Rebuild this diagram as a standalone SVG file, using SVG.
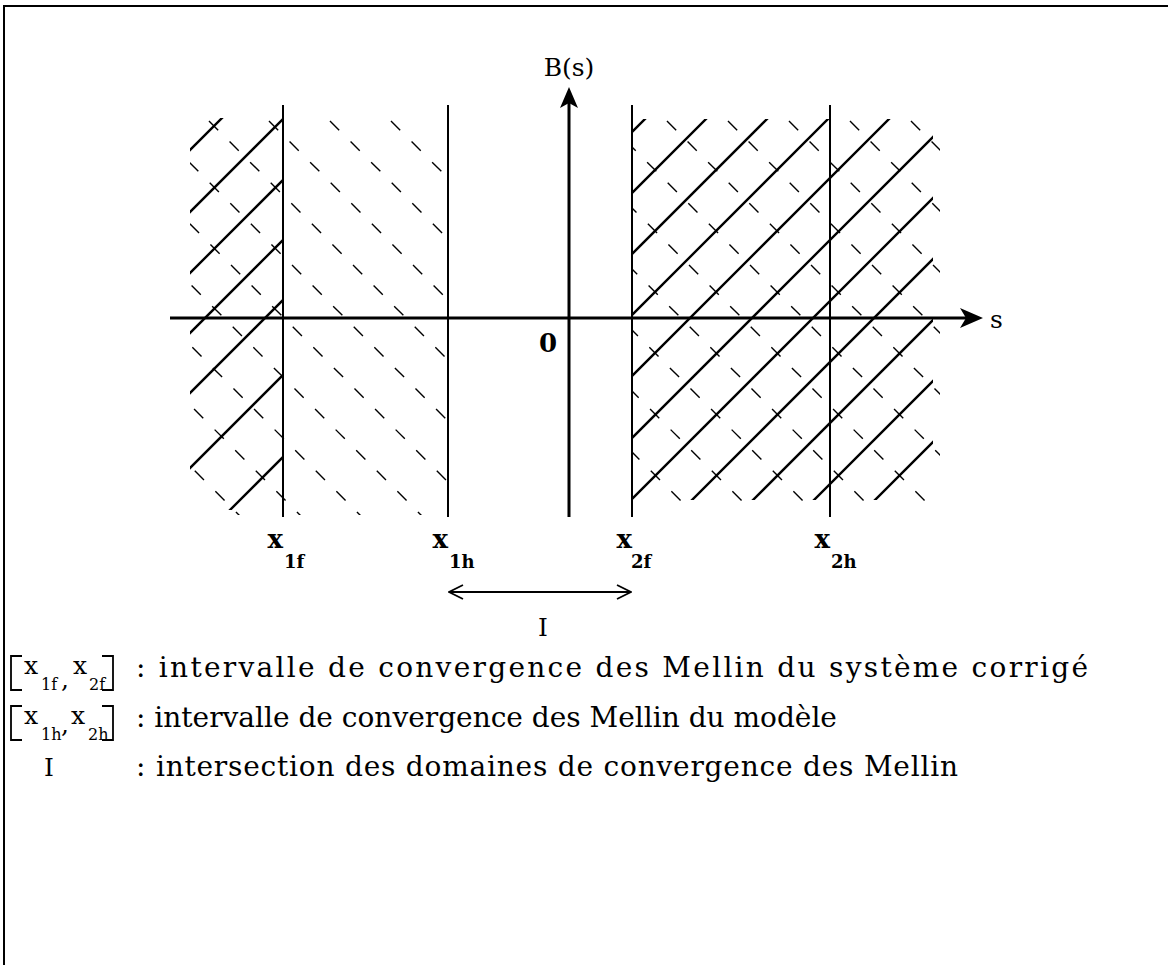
<svg xmlns="http://www.w3.org/2000/svg" width="1168" height="965" viewBox="0 0 1168 965">
<style>
.frame{stroke:#000;stroke-width:2;fill:none}
.axis{stroke:#000;stroke-width:3;fill:none}
.vline{stroke:#000;stroke-width:2;fill:none}
.hs{stroke:#000;stroke-width:2.4;fill:none}
.hd{stroke:#000;stroke-width:1.4;fill:none;stroke-dasharray:13 16.1}
.br{stroke:#000;stroke-width:1.8;fill:none}
text{font-family:"DejaVu Serif","Liberation Serif",serif;fill:#000}
.lbl{font-size:25px}
.xb{font-size:26px;font-weight:bold}
.sb{font-size:18px;font-weight:bold}
.lx{font-size:25px}
.ls{font-size:16px}
.leg{font-size:28px}
</style>
<defs>
<clipPath id="cLS"><rect x="190" y="118" width="93" height="392"/></clipPath>
<clipPath id="cLD"><rect x="190" y="118" width="258" height="397"/></clipPath>
<clipPath id="cRS"><rect x="632" y="119" width="301" height="381"/></clipPath>
<clipPath id="cRD"><rect x="632" y="118" width="308" height="387"/></clipPath>
<marker id="openArr" viewBox="0 0 16 16" refX="15" refY="8" markerWidth="16" markerHeight="16" markerUnits="userSpaceOnUse" orient="auto-start-reverse"><path d="M1 1 L15 8 L1 15" fill="none" stroke="#000" stroke-width="1.8"/></marker>
</defs>
<rect width="1168" height="965" fill="#fff"/>
<path class="frame" d="M4 965 V6 H1168"/>

<g id="hatch-left">
<g clip-path="url(#cLS)">
<path class="hs" d="M150 190 L330 10 M150 252 L330 72 M150 313 L330 133 M150 373 L330 193 M150 433 L330 253 M150 508 L330 328 M150 590 L330 410"/>
</g>
<g clip-path="url(#cLD)">
<path class="hd" d="M-175.6 100.4 L264 540 M-114.6 100.4 L325 540 M-54.6 100.4 L385 540 M6.4 100.4 L446 540 M66.4 100.4 L506 540 M127.4 100.4 L567 540 M188.4 100.4 L628 540 M248.4 100.4 L688 540 M309.4 100.4 L749 540 M370.4 100.4 L810 540"/>
</g>
</g>

<g id="hatch-right">
<g clip-path="url(#cRS)">
<path class="hs" d="M600 164 L960 -196 M600 225 L960 -135 M600 286 L960 -74 M600 347 L960 -13 M600 408 L960 48 M600 470 L960 110 M600 531 L960 171 M600 592 L960 232 M600 653 L960 293 M600 714 L960 354 M600 775 L960 415"/>
</g>
<g clip-path="url(#cRD)">
<path class="hd" d="M219.4 100.4 L659 540 M280.4 100.4 L720 540 M341.4 100.4 L781 540 M402.4 100.4 L842 540 M463.4 100.4 L903 540 M524.4 100.4 L964 540 M585.4 100.4 L1025 540 M646.4 100.4 L1086 540 M707.4 100.4 L1147 540 M768.4 100.4 L1208 540 M829.4 100.4 L1269 540 M890.4 100.4 L1330 540"/>
</g>
</g>

<g id="verticals">
<path class="vline" d="M283 105 V517 M448 105 V517 M632 105 V517 M830 105 V517"/>
</g>

<g id="axes">
<path class="axis" d="M170 318 H968"/>
<path d="M983 318 L960 308 L966 318 L960 328 Z" fill="#000"/>
<path class="axis" d="M569 517 V100"/>
<path d="M569 87 L560 108 L569 103 L578 108 Z" fill="#000"/>
</g>

<g id="interval-arrow">
<path d="M449 592 H631" stroke="#000" stroke-width="1.8" fill="none" marker-start="url(#openArr)" marker-end="url(#openArr)"/>
</g>

<g id="labels">
<text class="lbl" x="569" y="76" text-anchor="middle">B(s)</text>
<text class="lbl" x="990" y="328">s</text>
<text class="xb" x="548" y="352" text-anchor="middle">0</text>
<text class="lbl" x="543" y="636" text-anchor="middle">I</text>
<text class="xb" x="283" y="548" text-anchor="end">x</text><text class="sb" x="284" y="568">1f</text>
<text class="xb" x="448" y="548" text-anchor="end">x</text><text class="sb" x="449" y="568">1h</text>
<text class="xb" x="632" y="548" text-anchor="end">x</text><text class="sb" x="631" y="568">2f</text>
<text class="xb" x="830" y="548" text-anchor="end">x</text><text class="sb" x="831" y="568">2h</text>
</g>

<g id="legend-1">
<path class="br" d="M22 656 H11 V690 H22 M102 656 H113 V690 H102"/>
<text class="lx" x="24" y="674">x</text><text class="ls" x="41" y="690">1f</text>
<text class="lx" x="61" y="688">,</text>
<text class="lx" x="73" y="674">x</text><text class="ls" x="89" y="690">2f</text>
<text class="leg" x="136" y="677" textLength="952">: intervalle de convergence des Mellin du système corrigé</text>
</g>
<g id="legend-2">
<path class="br" d="M22 706 H11 V740 H22 M102 706 H113 V740 H102"/>
<text class="lx" x="24" y="724">x</text><text class="ls" x="41" y="740">1h</text>
<text class="lx" x="61" y="733">,</text>
<text class="lx" x="71" y="724">x</text><text class="ls" x="88" y="740">2h</text>
<text class="leg" x="136" y="727">: intervalle de convergence des Mellin du modèle</text>
</g>
<g id="legend-3">
<text class="lbl" x="49" y="776" text-anchor="middle">I</text>
<text class="leg" x="136" y="776" textLength="822">: intersection des domaines de convergence des Mellin</text>
</g>
</svg>
